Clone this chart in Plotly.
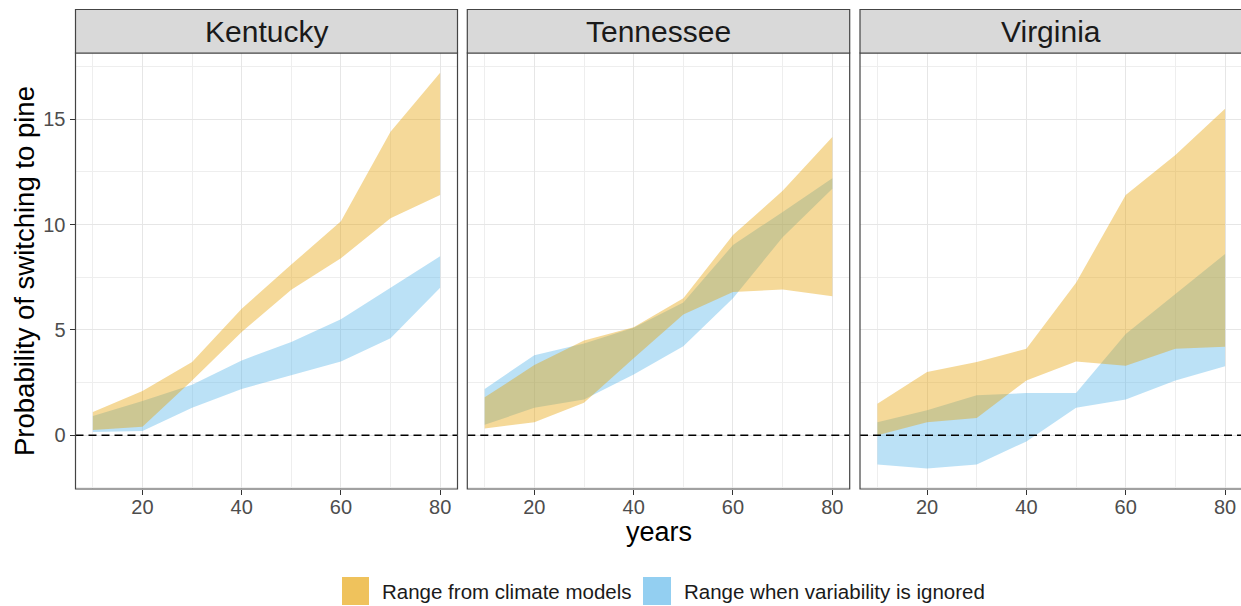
import plotly.graph_objects as go

# ---------------- data ----------------
years = [10, 20, 30, 40, 50, 60, 70, 80]
states = ["Kentucky", "Tennessee", "Virginia"]

# Range from climate models (orange)
ky_climate_low = [0.25, 0.40, 2.60, 4.90, 6.90, 8.40, 10.30, 11.40]
ky_climate_high = [1.10, 2.10, 3.48, 6.00, 8.10, 10.15, 14.40, 17.20]
tn_climate_low = [0.32, 0.62, 1.54, 3.65, 5.73, 6.80, 6.92, 6.60]
tn_climate_high = [1.80, 3.33, 4.50, 5.13, 6.50, 9.50, 11.60, 14.15]
va_climate_low = [0.00, 0.62, 0.82, 2.60, 3.50, 3.30, 4.10, 4.20]
va_climate_high = [1.50, 3.00, 3.48, 4.10, 7.24, 11.40, 13.30, 15.50]

# Range when variability is ignored (blue)
ky_novar_low = [0.15, 0.20, 1.30, 2.20, 2.85, 3.50, 4.60, 7.00]
ky_novar_high = [0.92, 1.63, 2.40, 3.55, 4.43, 5.50, 7.00, 8.50]
tn_novar_low = [0.50, 1.30, 1.70, 2.88, 4.23, 6.50, 9.40, 11.70]
tn_novar_high = [2.20, 3.80, 4.35, 5.10, 6.30, 9.03, 10.60, 12.20]
va_novar_low = [-1.39, -1.58, -1.39, -0.29, 1.30, 1.70, 2.60, 3.28]
va_novar_high = [0.62, 1.19, 1.90, 2.00, 2.00, 4.80, 6.70, 8.60]

climate_low = [ky_climate_low, tn_climate_low, va_climate_low]
climate_high = [ky_climate_high, tn_climate_high, va_climate_high]
novar_low = [ky_novar_low, tn_novar_low, va_novar_low]
novar_high = [ky_novar_high, tn_novar_high, va_novar_high]

legend_labels = ["Range from climate models", "Range when variability is ignored"]
y_title = "Probability of switching to pine"
x_title = "years"

# ---------------- styling ----------------
W, H = 1241, 606
FONT = "Liberation Sans, Arial, Helvetica, sans-serif"
ORANGE_FILL = "rgba(230,159,0,0.4)"
BLUE_FILL = "rgba(86,180,233,0.4)"
ORANGE_KEY = "#EFC25C"
BLUE_KEY = "#93CFF1"

def px_x(p):
    return p / W

def px_y(p):
    return (H - p) / H

panel_px = [(75.5, 457.5), (467.3, 849.7), (860.0, 1242.4)]
xranges = [[6.5, 83.5], [6.5, 83.5], [6.5, 6.5 + (W - 860.0) / 4.967]]
panel_top, panel_bottom = 53.0, 489.0
strip_top = 9.5
yrange = [-2.55, 18.14]

fig = go.Figure()

for i in range(3):
    xa = "x" if i == 0 else f"x{i+1}"
    ya = "y" if i == 0 else f"y{i+1}"
    # blue first, orange on top
    fig.add_trace(go.Scatter(
        x=years + years[::-1],
        y=novar_high[i] + novar_low[i][::-1],
        fill="toself", fillcolor=BLUE_FILL, mode="lines",
        line=dict(width=0, color="rgba(0,0,0,0)"),
        hoverinfo="skip", showlegend=False, xaxis=xa, yaxis=ya))
    fig.add_trace(go.Scatter(
        x=years + years[::-1],
        y=climate_high[i] + climate_low[i][::-1],
        fill="toself", fillcolor=ORANGE_FILL, mode="lines",
        line=dict(width=0, color="rgba(0,0,0,0)"),
        hoverinfo="skip", showlegend=False, xaxis=xa, yaxis=ya))

layout = dict(
    width=W, height=H,
    margin=dict(l=0, r=0, t=0, b=0),
    paper_bgcolor="white", plot_bgcolor="white",
    font=dict(family=FONT),
    showlegend=False,
)

shapes = []
annotations = []
for i in range(3):
    xk = "xaxis" if i == 0 else f"xaxis{i+1}"
    yk = "yaxis" if i == 0 else f"yaxis{i+1}"
    xa = "x" if i == 0 else f"x{i+1}"
    ya = "y" if i == 0 else f"y{i+1}"
    x0p, x1p = panel_px[i]
    layout[xk] = dict(
        domain=[px_x(x0p), min(1.0, px_x(x1p))],
        range=xranges[i], anchor=ya,
        tickmode="linear", tick0=0, dtick=20,
        showgrid=True, gridcolor="#E6E6E6", gridwidth=1.3,
        minor=dict(dtick=10, tick0=0, showgrid=True, gridcolor="#EEEEEE", gridwidth=1.0, ticks=""),
        zeroline=False, showline=False,
        ticks="outside", ticklen=5, tickwidth=1.2, tickcolor="#333333",
        ticklabelstandoff=-5,
        tickfont=dict(size=20, color="#4D4D4D", family=FONT),
    )
    layout[yk] = dict(
        domain=[px_y(panel_bottom), px_y(panel_top)],
        range=yrange, anchor=xa,
        tickmode="linear", tick0=0, dtick=5,
        showgrid=True, gridcolor="#E6E6E6", gridwidth=1.3,
        minor=dict(dtick=2.5, tick0=0, showgrid=True, gridcolor="#EEEEEE", gridwidth=1.0, ticks=""),
        zeroline=False, showline=False,
        ticks="outside" if i == 0 else "", ticklen=5, tickwidth=1.2, tickcolor="#333333",
        showticklabels=(i == 0),
        tickfont=dict(size=20, color="#4D4D4D", family=FONT),
    )
    # dashed zero line
    shapes.append(dict(type="line", xref=f"{xa} domain", yref=ya,
                       x0=0, x1=1, y0=0, y1=0,
                       line=dict(color="black", width=1.7, dash="8px,5px"), layer="above"))
    # panel border
    shapes.append(dict(type="rect", xref="paper", yref="paper",
                       x0=px_x(x0p), x1=px_x(x1p), y0=px_y(panel_bottom), y1=px_y(panel_top),
                       line=dict(color="#444444", width=1.2), fillcolor="rgba(0,0,0,0)", layer="above"))
    # strip
    shapes.append(dict(type="rect", xref="paper", yref="paper",
                       x0=px_x(x0p), x1=px_x(x1p), y0=px_y(panel_top), y1=px_y(strip_top),
                       line=dict(color="#444444", width=1.2), fillcolor="#D9D9D9", layer="above"))
    cx = (x0p + x1p) / 2
    annotations.append(dict(text=states[i], xref="paper", yref="paper",
                            x=px_x(cx), y=px_y((panel_top + strip_top) / 2),
                            xanchor="center", yanchor="middle", showarrow=False,
                            font=dict(size=30, color="#1A1A1A", family=FONT)))

# axis titles
annotations.append(dict(text=y_title, xref="paper", yref="paper",
                        x=px_x(24), y=px_y((panel_top + panel_bottom) / 2),
                        xanchor="center", yanchor="middle", textangle=-90, showarrow=False,
                        font=dict(size=27.5, color="black", family=FONT)))
annotations.append(dict(text=x_title, xref="paper", yref="paper",
                        x=px_x((75.5 + 1242.4) / 2), y=px_y(532),
                        xanchor="center", yanchor="middle", showarrow=False,
                        font=dict(size=27, color="black", family=FONT)))

# legend (keys + labels)
key_specs = [(342, 369, ORANGE_KEY, 380), (643, 671, BLUE_KEY, 682)]
for (kx0, kx1, kc, tx), lab in zip(key_specs, legend_labels):
    shapes.append(dict(type="rect", xref="paper", yref="paper",
                       x0=px_x(kx0), x1=px_x(kx1), y0=px_y(605), y1=px_y(577),
                       line=dict(width=0), fillcolor=kc))
    annotations.append(dict(text=lab, xref="paper", yref="paper",
                            x=px_x(tx), y=px_y(591), xanchor="left", yanchor="middle",
                            showarrow=False, font=dict(size=20.5, color="#1A1A1A", family=FONT)))

layout["shapes"] = shapes
layout["annotations"] = annotations
fig.update_layout(**layout)

fig.write_html("out.html")
